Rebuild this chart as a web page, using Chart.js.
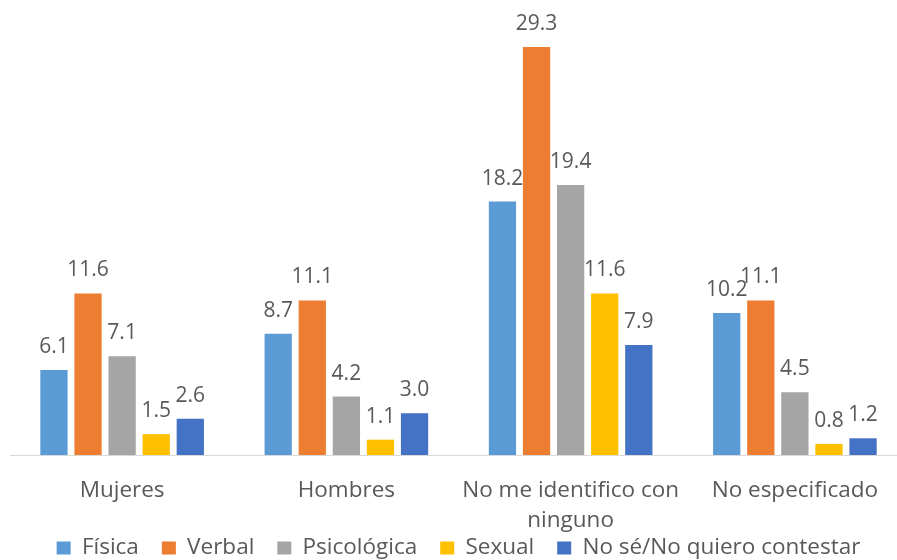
<!DOCTYPE html>
<html><head><meta charset="utf-8">
<script src="https://cdn.jsdelivr.net/npm/chart.js@4"></script>
<style>
html,body{margin:0;padding:0;background:#fff;overflow:hidden;width:897px;height:560px;}
#wrap{position:absolute;left:0;top:0;width:907px;height:560px;}
</style></head>
<body>
<div id="wrap"><canvas id="c" width="907" height="560"></canvas></div>
<script>
const categories = ["Mujeres", "Hombres", ["No me identifico con", "ninguno"], "No especificado"];
const seriesNames = ["Física", "Verbal", "Psicológica", "Sexual", "No sé/No quiero contestar"];
const fisica = [6.1, 8.7, 18.2, 10.2];
const verbal = [11.6, 11.1, 29.3, 11.1];
const psicologica = [7.1, 4.2, 19.4, 4.5];
const sexual = [1.5, 1.1, 11.6, 0.8];
const noSe = [2.6, 3.0, 7.9, 1.2];
const colors = ["#5B9BD5", "#ED7D31", "#A5A5A5", "#FFC000", "#4472C4"];
const allSeries = [fisica, verbal, psicologica, sexual, noSe];

const FONT = "'Open Sans', Lato, sans-serif";
const TEXT = "#595959";
const BASELINE_Y = 455;
const LEGEND_Y = 548;
const LEGEND_FONT = 22.5;
const LEGEND_PAD = 23;
const PAD_BOTTOM = -45;

const labelPlugin = {
  id: 'valueLabels',
  afterDatasetsDraw(chart) {
    const ctx = chart.ctx;
    ctx.save();
    ctx.font = "21px " + FONT;
    ctx.fillStyle = TEXT;
    ctx.textAlign = "center";
    ctx.textBaseline = "alphabetic";
    chart.data.datasets.forEach((ds, di) => {
      const meta = chart.getDatasetMeta(di);
      meta.data.forEach((el, i) => {
        ctx.fillText(ds.data[i].toFixed(1), el.x, el.y - 17);
      });
    });
    ctx.restore();
  }
};

const legendShift = {
  id: 'legendShift',
  afterLayout(chart) {
    const lg = chart.legend;
    if (!lg) return;
    const dy = (LEGEND_Y - LEGEND_FONT / 2 - LEGEND_PAD) - lg.top;
    lg.top += dy; lg.bottom += dy;
  }
};

new Chart(document.getElementById('c'), {
  type: 'bar',
  data: {
    labels: categories,
    datasets: allSeries.map((d, i) => ({
      label: seriesNames[i],
      data: d,
      backgroundColor: colors[i],
      borderWidth: 0,
      categoryPercentage: 0.76,
      barPercentage: 0.8
    }))
  },
  options: {
    responsive: false,
    animation: false,
    layout: { padding: { left: 10, right: 0, top: 0, bottom: PAD_BOTTOM } },
    scales: {
      x: {
        grid: { display: false, drawTicks: false },
        border: { display: true, color: "#D9D9D9", width: 1 },
        ticks: { color: TEXT, font: { family: FONT, size: 22.5, lineHeight: 1.333 }, padding: 21, maxRotation: 0, autoSkip: false },
        afterFit(scale) {
          const lh = scale.chart.legend ? scale.chart.legend.height : 0;
          scale.height = 560 - PAD_BOTTOM - BASELINE_Y - lh;
        }
      },
      y: {
        display: false,
        min: 0,
        max: 32.68
      }
    },
    plugins: {
      legend: {
        position: 'bottom',
        labels: {
          color: TEXT,
          font: { family: FONT, size: LEGEND_FONT },
          boxWidth: 14,
          boxHeight: 13,
          padding: LEGEND_PAD
        }
      },
      tooltip: { enabled: false },
      title: { display: false }
    }
  },
  plugins: [labelPlugin, legendShift]
});
</script>
</body></html>
